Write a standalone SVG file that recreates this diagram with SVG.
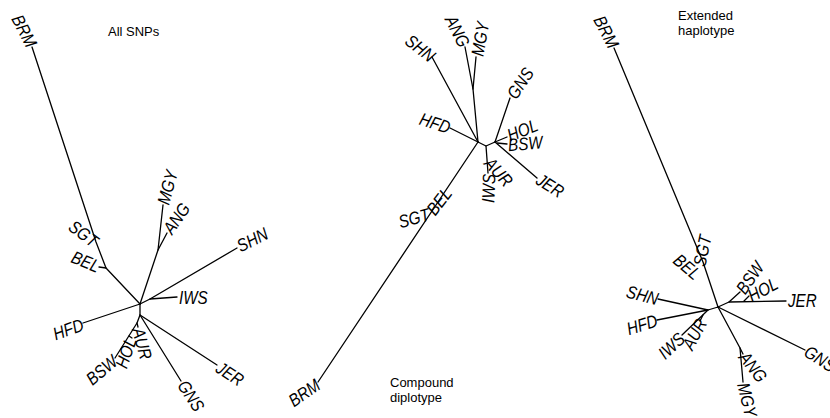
<svg xmlns="http://www.w3.org/2000/svg" width="830" height="418" viewBox="0 0 830 418">
<style>
.bg{fill:#fff}
.edges path{fill:none;stroke:#000;stroke-width:1.3;stroke-linecap:round;stroke-linejoin:round}
.lbl{font-family:"Liberation Sans",Arial,sans-serif;font-size:16px;font-style:italic;fill:#000}
.e{text-anchor:end}
.title{font-family:"Liberation Sans",Arial,sans-serif;font-size:13px;fill:#000}
</style>
<rect class="bg" width="830" height="418"/>

<!-- Tree 1: All SNPs -->
<g id="tree1">
<g class="edges" id="tree1-edges">
<path d="M32,47 L96,242 L106,268 L140,304"/>
<path d="M106,268 L99,267"/>
<path d="M140,304 L83,323"/>
<path d="M140,304 L150,299 L177,297"/>
<path d="M150,299 L237,248"/>
<path d="M140,304 L158,250 L167,233"/>
<path d="M158,250 L163,205"/>
<path d="M140,304 L140,315 L181,381"/>
<path d="M140,315 L217,365"/>
<path d="M140,315 L137,323 L138,327"/>
<path d="M137,323 L115,358"/>
<path d="M129,336 L132,338"/>
</g>
<g id="t1-BRM"><text class="lbl e" transform="translate(32,46) rotate(63) scale(0.95,1.12)" dy="0.35em">BRM</text></g>
<g id="t1-SGT"><text class="lbl e" transform="translate(96,243) rotate(37) scale(0.95,1.12)" dy="0.35em">SGT</text></g>
<g id="t1-BEL"><text class="lbl e" transform="translate(99,267) rotate(22) scale(0.95,1.12)" dy="0.35em">BEL</text></g>
<g id="t1-HFD"><text class="lbl e" transform="translate(83,324) rotate(-20) scale(0.95,1.12)" dy="0.35em">HFD</text></g>
<g id="t1-IWS"><text class="lbl" transform="translate(179,298) scale(0.95,1.12)" dy="0.35em">IWS</text></g>
<g id="t1-SHN"><text class="lbl" transform="translate(238,247) rotate(-27) scale(0.95,1.12)" dy="0.35em">SHN</text></g>
<g id="t1-ANG"><text class="lbl" transform="translate(167,232) rotate(-55) scale(0.95,1.12)" dy="0.35em">ANG</text></g>
<g id="t1-MGY"><text class="lbl" transform="translate(163,204) rotate(-75) scale(0.95,1.12)" dy="0.35em">MGY</text></g>
<g id="t1-AUR"><text class="lbl" transform="translate(138,328) rotate(75) scale(0.95,1.12)" dy="0.35em">AUR</text></g>
<g id="t1-HOL"><text class="lbl e" transform="translate(131,338) rotate(-71) scale(0.95,1.12)" dy="0.35em">HOL</text></g>
<g id="t1-BSW"><text class="lbl e" transform="translate(115,359) rotate(-40) scale(0.95,1.12)" dy="0.35em">BSW</text></g>
<g id="t1-GNS"><text class="lbl" transform="translate(182,382) rotate(57) scale(0.95,1.12)" dy="0.35em">GNS</text></g>
<g id="t1-JER"><text class="lbl" transform="translate(218,366) rotate(33) scale(0.95,1.12)" dy="0.35em">JER</text></g>
<text class="title" x="108" y="36">All SNPs</text>
</g>

<!-- Tree 2: Compound diplotype -->
<g id="tree2">
<g class="edges" id="tree2-edges">
<path d="M478,142 L432,57"/>
<path d="M478,142 L473,89 L465,47"/>
<path d="M473,89 L476,57"/>
<path d="M478,142 L450,128"/>
<path d="M478,142 L486,146 L495,142"/>
<path d="M486,146 L488,173"/>
<path d="M495,142 L510,98"/>
<path d="M495,142 L507,137"/>
<path d="M497,143 L507,144"/>
<path d="M495,142 L537,178"/>
<path d="M478,142 L318,382"/>
</g>
<g id="t2-SHN"><text class="lbl e" transform="translate(433,58) rotate(38) scale(0.95,1.12)" dy="0.35em">SHN</text></g>
<g id="t2-ANG"><text class="lbl e" transform="translate(465,46) rotate(63) scale(0.95,1.12)" dy="0.35em">ANG</text></g>
<g id="t2-MGY"><text class="lbl" transform="translate(477,56) rotate(-80) scale(0.95,1.12)" dy="0.35em">MGY</text></g>
<g id="t2-HFD"><text class="lbl e" transform="translate(450,128) rotate(18) scale(0.95,1.12)" dy="0.35em">HFD</text></g>
<g id="t2-GNS"><text class="lbl" transform="translate(511,97) rotate(-56) scale(0.95,1.12)" dy="0.35em">GNS</text></g>
<g id="t2-HOL"><text class="lbl" transform="translate(508,136) rotate(-22) scale(0.95,1.12)" dy="0.35em">HOL</text></g>
<g id="t2-BSW"><text class="lbl" transform="translate(508,145) rotate(-5) scale(0.95,1.12)" dy="0.35em">BSW</text></g>
<g id="t2-JER"><text class="lbl" transform="translate(538,178) rotate(32) scale(0.95,1.12)" dy="0.35em">JER</text></g>
<g id="t2-AUR"><text class="lbl" transform="translate(488,160) rotate(48) scale(0.95,1.12)" dy="0.35em">AUR</text></g>
<g id="t2-IWS"><text class="lbl e" transform="translate(489,174) rotate(-88) scale(0.95,1.12)" dy="0.35em">IWS</text></g>
<g id="t2-BEL"><text class="lbl e" transform="translate(448,190) rotate(-52) scale(0.95,1.12)" dy="0.35em">BEL</text></g>
<g id="t2-SGT"><text class="lbl e" transform="translate(429,214) rotate(-15) scale(0.95,1.12)" dy="0.35em">SGT</text></g>
<g id="t2-BRM"><text class="lbl e" transform="translate(318,383) rotate(-35) scale(0.95,1.12)" dy="0.35em">BRM</text></g>
<text class="title" x="390" y="387">Compound</text>
<text class="title" x="390" y="402">diplotype</text>
</g>

<!-- Tree 3: Extended haplotype -->
<g id="tree3">
<g class="edges" id="tree3-edges">
<path d="M614,48 L703,262 L718,307"/>
<path d="M718,307 L708,310 L658,299"/>
<path d="M708,310 L657,320"/>
<path d="M708,310 L682,335"/>
<path d="M703,315 L700,321"/>
<path d="M718,307 L729,302 L740,292"/>
<path d="M729,302 L786,301"/>
<path d="M744,301 L749,296"/>
<path d="M718,307 L805,350"/>
<path d="M718,307 L740,348 L743,382"/>
<path d="M740,348 L743,354"/>
</g>
<g id="t3-BRM"><text class="lbl e" transform="translate(614,47) rotate(63) scale(0.95,1.12)" dy="0.35em">BRM</text></g>
<g id="t3-SGT"><text class="lbl" transform="translate(699,266) rotate(-78) scale(0.95,1.12)" dy="0.35em">SGT</text></g>
<g id="t3-BEL"><text class="lbl e" transform="translate(698,276) rotate(40) scale(0.95,1.12)" dy="0.35em">BEL</text></g>
<g id="t3-SHN"><text class="lbl e" transform="translate(658,299) rotate(14) scale(0.95,1.12)" dy="0.35em">SHN</text></g>
<g id="t3-HFD"><text class="lbl e" transform="translate(657,320) rotate(-17) scale(0.95,1.12)" dy="0.35em">HFD</text></g>
<g id="t3-IWS"><text class="lbl e" transform="translate(682,336) rotate(-43) scale(0.95,1.12)" dy="0.35em">IWS</text></g>
<g id="t3-AUR"><text class="lbl e" transform="translate(702,320) rotate(-62) scale(0.95,1.12)" dy="0.35em">AUR</text></g>
<g id="t3-BSW"><text class="lbl" transform="translate(740,292) rotate(-55) scale(0.95,1.12)" dy="0.35em">BSW</text></g>
<g id="t3-HOL"><text class="lbl" transform="translate(749,297) rotate(-28) scale(0.95,1.12)" dy="0.35em">HOL</text></g>
<g id="t3-JER"><text class="lbl" transform="translate(788,301) scale(0.95,1.12)" dy="0.35em">JER</text></g>
<g id="t3-GNS"><text class="lbl" transform="translate(806,350) rotate(32) scale(0.95,1.12)" dy="0.35em">GNS</text></g>
<g id="t3-ANG"><text class="lbl" transform="translate(743,354) rotate(52) scale(0.95,1.12)" dy="0.35em">ANG</text></g>
<g id="t3-MGY"><text class="lbl" transform="translate(743,383) rotate(76) scale(0.95,1.12)" dy="0.35em">MGY</text></g>
<text class="title" x="678" y="20">Extended</text>
<text class="title" x="678" y="35">haplotype</text>
</g>
</svg>
